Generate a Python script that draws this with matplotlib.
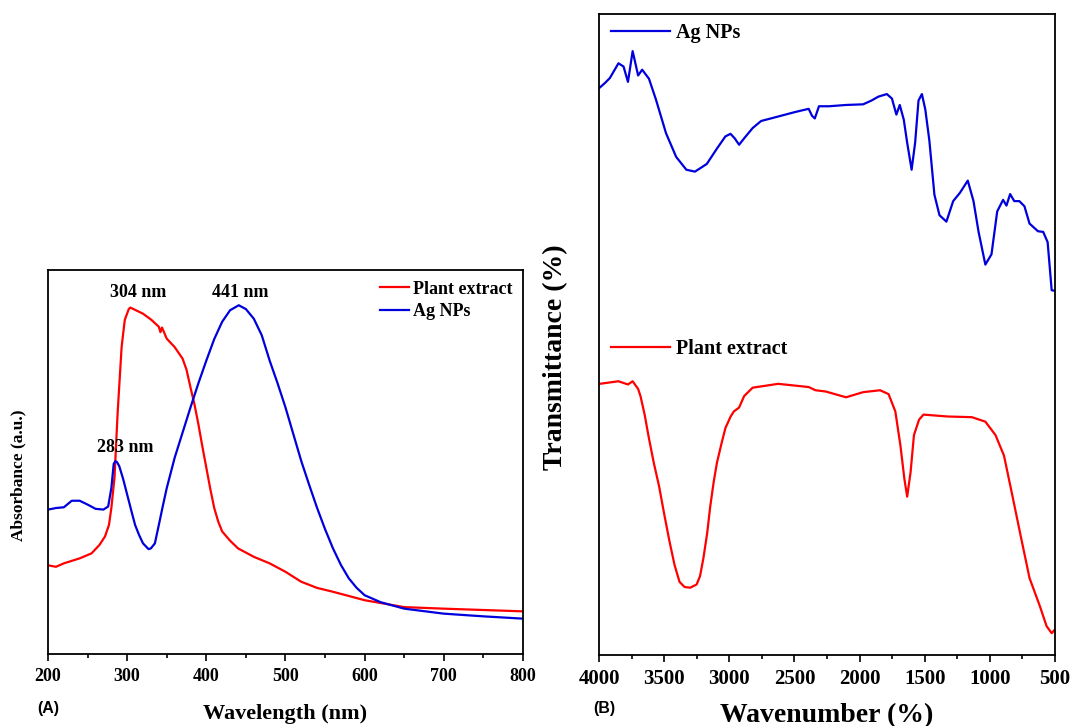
import matplotlib.pyplot as plt
from matplotlib.lines import Line2D
from matplotlib.ticker import MultipleLocator

# UV-vis data (A), absorbance in arbitrary units
uv_wl_plant = [200, 210, 220, 240, 255, 265, 272, 277, 280, 284, 288, 293, 297, 302, 304,
               310, 320, 330, 340, 342, 344, 350, 360, 370, 375, 380, 385, 390, 395, 400,
               405, 410, 415, 420, 430, 440, 460, 480, 500, 520, 540, 560, 600, 650, 700, 800]
uv_abs_plant = [0.231, 0.227, 0.236, 0.249, 0.262, 0.284, 0.306, 0.336, 0.38, 0.46, 0.63, 0.80,
                0.87, 0.898, 0.902, 0.896, 0.886, 0.871, 0.852, 0.838, 0.850, 0.821, 0.799,
                0.769, 0.740, 0.694, 0.650, 0.598, 0.540, 0.485, 0.430, 0.380, 0.345, 0.319,
                0.295, 0.275, 0.253, 0.236, 0.214, 0.188, 0.172, 0.162, 0.140, 0.122, 0.118,
                0.111]
uv_wl_ag = [200, 210, 220, 230, 240, 250, 260, 270, 276, 280, 283, 285, 287, 290, 295, 300,
            305, 310, 315, 320, 327, 330, 335, 340, 345, 350, 360, 380, 390, 400, 410, 420,
            430, 441, 450, 460, 470, 480, 490, 500, 510, 520, 530, 540, 550, 560, 570, 580,
            590, 600, 620, 650, 700, 750, 800]
uv_abs_ag = [0.376, 0.380, 0.382, 0.399, 0.399, 0.389, 0.378, 0.376, 0.384, 0.432, 0.495,
             0.502, 0.500, 0.489, 0.455, 0.415, 0.375, 0.336, 0.310, 0.288, 0.273, 0.275,
             0.288, 0.336, 0.385, 0.432, 0.511, 0.642, 0.705, 0.764, 0.820, 0.865, 0.895,
             0.908, 0.898, 0.873, 0.830, 0.764, 0.705, 0.642, 0.572, 0.502, 0.440, 0.380,
             0.325, 0.275, 0.232, 0.197, 0.172, 0.153, 0.135, 0.118, 0.105, 0.098, 0.092]
peak_labels = ['304 nm', '441 nm', '283 nm']
peak_pos = [(314, 0.94), (443, 0.942), (297, 0.537)]

# FTIR data (B), transmittance in arbitrary units
ir_wn_ag = [3995, 3956, 3917, 3851, 3812, 3778, 3742, 3700, 3669, 3617, 3564, 3486, 3408,
            3330, 3264, 3173, 3095, 3030, 2991, 2959, 2925, 2886, 2821, 2756, 2625, 2495,
            2391, 2365, 2344, 2312, 2234, 2104, 1973, 1908, 1856, 1791, 1752, 1718, 1692,
            1661, 1635, 1601, 1574, 1548, 1522, 1496, 1465, 1426, 1387, 1334, 1282, 1230,
            1170, 1126, 1087, 1035, 988, 944, 899, 873, 845, 813, 774, 735, 696, 631, 591,
            557, 526, 500]
ir_t_ag = [88.5, 89.2, 90.0, 92.3, 91.8, 89.4, 94.2, 90.4, 91.3, 89.9, 86.7, 81.4, 77.7,
           75.7, 75.4, 76.6, 79.0, 80.9, 81.3, 80.6, 79.6, 80.6, 82.2, 83.3, 84.0, 84.7,
           85.2, 84.1, 83.7, 85.6, 85.6, 85.8, 85.9, 86.5, 87.1, 87.5, 86.8, 84.3, 85.8,
           83.5, 79.9, 75.7, 79.9, 86.5, 87.5, 85.1, 80.3, 71.8, 68.6, 67.6, 70.8, 72.1,
           74.0, 70.8, 66.0, 60.9, 62.5, 69.2, 71.0, 70.1, 71.9, 70.8, 70.8, 70.0, 67.3,
           66.1, 66.0, 64.4, 56.9, 56.8]
ir_wn_plant = [3995, 3851, 3778, 3742, 3700, 3682, 3650, 3617, 3580, 3539, 3500, 3460, 3420,
               3382, 3343, 3300, 3251, 3225, 3199, 3170, 3147, 3120, 3095, 3060, 3030, 2990,
               2965, 2925, 2886, 2821, 2625, 2391, 2339, 2260, 2104, 1973, 1843, 1778, 1726,
               1687, 1656, 1635, 1609, 1583, 1544, 1510, 1322, 1139, 1035, 957, 892, 826,
               761, 696, 618, 565, 526, 500]
ir_t_plant = [42.3, 42.7, 42.2, 42.7, 41.5, 40.4, 37.5, 33.8, 30.0, 26.3, 22.0, 17.8, 14.0,
              11.4, 10.6, 10.5, 11.0, 12.3, 15.1, 19.0, 23.1, 27.0, 30.0, 33.0, 35.4, 37.2,
              38.0, 38.6, 40.4, 41.7, 42.3, 41.8, 41.3, 41.1, 40.2, 41.0, 41.3, 40.7, 38.0,
              32.7, 27.4, 24.7, 28.5, 34.3, 36.7, 37.5, 37.2, 37.1, 36.4, 34.3, 31.1, 24.7,
              18.3, 12.0, 7.7, 4.5, 3.4, 4.0]

serif = 'Liberation Serif'
red = '#ff0000'
blue = '#0000dd'

fig = plt.figure(figsize=(10.72, 7.26), dpi=100)
ax1 = fig.add_axes([0.0448, 0.0992, 0.443, 0.529])
ax2 = fig.add_axes([0.5588, 0.0978, 0.4254, 0.883])

# panel A
ax1.plot(uv_wl_plant, uv_abs_plant, color=red, lw=1.6, label='Plant extract')
ax1.plot(uv_wl_ag, uv_abs_ag, color=blue, lw=1.6, label='Ag NPs')
ax1.set_xlim(200, 800)
ax1.set_ylim(0, 1.0)
ax1.set_yticks([])
ax1.xaxis.set_major_locator(MultipleLocator(100))
ax1.xaxis.set_minor_locator(MultipleLocator(50))
for lab, (x, y) in zip(peak_labels, peak_pos):
    ax1.text(x, y, lab, ha='center', va='center', fontsize=13, fontweight='bold', family=serif)
ax1.legend(loc='upper right', frameon=False, handlelength=1.6, handletextpad=0.2,
           labelspacing=0.3, borderaxespad=0.2,
           prop={'family': serif, 'weight': 'bold', 'size': 13})
ax1.set_xlabel('Wavelength (nm)', family=serif, fontweight='bold', fontsize=16, labelpad=14)
ax1.set_ylabel('Absorbance (a.u.)', family=serif, fontweight='bold', fontsize=12.5)
ax1.yaxis.set_label_coords(-0.046, 0.466)
fig.text(0.035, 0.018, '(A)', family='Liberation Sans', fontweight='bold', fontsize=11.5)

# panel B
ax2.plot(ir_wn_ag, ir_t_ag, color=blue, lw=1.6)
ax2.plot(ir_wn_plant, ir_t_plant, color=red, lw=1.6)
ax2.set_xlim(4000, 500)
ax2.set_ylim(0, 100)
ax2.set_yticks([])
ax2.xaxis.set_major_locator(MultipleLocator(500))
ax2.xaxis.set_minor_locator(MultipleLocator(250))
legB1 = ax2.legend(handles=[Line2D([], [], color=blue, lw=1.6)], labels=['Ag NPs'],
                   loc='upper left', bbox_to_anchor=(0.0, 1.005), frameon=False,
                   handlelength=2.9, handletextpad=0.3, borderaxespad=0.2,
                   prop={'family': serif, 'weight': 'bold', 'size': 14.5})
ax2.add_artist(legB1)
ax2.legend(handles=[Line2D([], [], color=red, lw=1.6)], labels=['Plant extract'],
           loc='center left', bbox_to_anchor=(0.0, 0.478), frameon=False,
           handlelength=2.9, handletextpad=0.3, borderaxespad=0.2,
           prop={'family': serif, 'weight': 'bold', 'size': 14.5})
ax2.set_xlabel('Wavenumber (%)', family=serif, fontweight='bold', fontsize=20, labelpad=10)
ax2.set_ylabel('Transmittance (%)', family=serif, fontweight='bold', fontsize=20)
ax2.yaxis.set_label_coords(-0.068, 0.465)
fig.text(0.553, 0.018, '(B)', family='Liberation Sans', fontweight='bold', fontsize=11.5)

for ax, fs in ((ax1, 13), (ax2, 15)):
    for s in ax.spines.values():
        s.set_linewidth(1.3)
    ax.tick_params(axis='x', which='major', direction='out', length=5, width=1.2,
                   labelsize=fs, pad=5)
    ax.tick_params(axis='x', which='minor', direction='out', length=3, width=1.2)
    for t in ax.get_xticklabels():
        t.set_family(serif)
        t.set_fontweight('bold')

fig.savefig('out.png', dpi=100)
